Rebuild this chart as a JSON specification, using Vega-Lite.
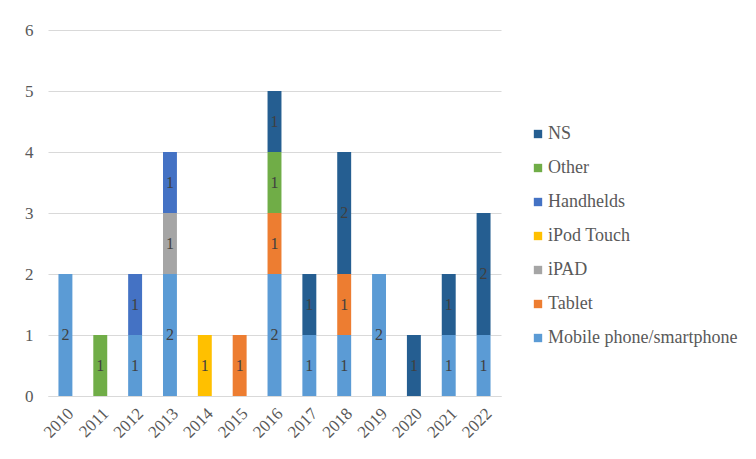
{
  "$schema": "https://vega.github.io/schema/vega-lite/v6.json",
  "autosize": {"type": "none"},
  "width": 453,
  "height": 366,
  "padding": {"left": 48, "top": 30, "right": 255, "bottom": 63},
  "background": "white",
  "config": {
    "font": "Liberation Serif",
    "view": {"stroke": null},
    "axis": {"labelFont": "Liberation Serif", "labelColor": "#595959", "labelFontSize": 17},
    "legend": {"labelFont": "Liberation Serif", "labelColor": "#595959", "labelFontSize": 18, "labelLimit": 400}
  },
  "data": {
    "values": [
      {"year": "2010", "device": "Mobile phone/smartphone", "k": 1, "n": 2},
      {"year": "2011", "device": "Other", "k": 6, "n": 1},
      {"year": "2012", "device": "Mobile phone/smartphone", "k": 1, "n": 1},
      {"year": "2012", "device": "Handhelds", "k": 5, "n": 1},
      {"year": "2013", "device": "Mobile phone/smartphone", "k": 1, "n": 2},
      {"year": "2013", "device": "iPAD", "k": 3, "n": 1},
      {"year": "2013", "device": "Handhelds", "k": 5, "n": 1},
      {"year": "2014", "device": "iPod Touch", "k": 4, "n": 1},
      {"year": "2015", "device": "Tablet", "k": 2, "n": 1},
      {"year": "2016", "device": "Mobile phone/smartphone", "k": 1, "n": 2},
      {"year": "2016", "device": "Tablet", "k": 2, "n": 1},
      {"year": "2016", "device": "Other", "k": 6, "n": 1},
      {"year": "2016", "device": "NS", "k": 7, "n": 1},
      {"year": "2017", "device": "Mobile phone/smartphone", "k": 1, "n": 1},
      {"year": "2017", "device": "NS", "k": 7, "n": 1},
      {"year": "2018", "device": "Mobile phone/smartphone", "k": 1, "n": 1},
      {"year": "2018", "device": "Tablet", "k": 2, "n": 1},
      {"year": "2018", "device": "NS", "k": 7, "n": 2},
      {"year": "2019", "device": "Mobile phone/smartphone", "k": 1, "n": 2},
      {"year": "2020", "device": "NS", "k": 7, "n": 1},
      {"year": "2021", "device": "Mobile phone/smartphone", "k": 1, "n": 1},
      {"year": "2021", "device": "NS", "k": 7, "n": 1},
      {"year": "2022", "device": "Mobile phone/smartphone", "k": 1, "n": 1},
      {"year": "2022", "device": "NS", "k": 7, "n": 2}
    ]
  },
  "transform": [
    {"stack": "n", "groupby": ["year"], "sort": [{"field": "k", "order": "ascending"}], "as": ["y0", "y1"]},
    {"calculate": "(datum.y0 + datum.y1) / 2", "as": "ymid"}
  ],
  "encoding": {
    "x": {
      "field": "year", "type": "ordinal", "title": null,
      "scale": {"paddingInner": 0.6, "paddingOuter": 0.3},
      "axis": {"labelAngle": -45, "ticks": false, "domain": true, "domainColor": "#D9D9D9", "labelPadding": 9}
    }
  },
  "layer": [
    {
      "mark": {"type": "bar"},
      "encoding": {
        "y": {
          "field": "y0", "type": "quantitative", "title": null,
          "scale": {"domain": [0, 6]},
          "axis": {"tickCount": 6, "ticks": false, "domain": false, "gridColor": "#D9D9D9", "labelPadding": 15}
        },
        "y2": {"field": "y1"},
        "color": {
          "field": "device", "type": "nominal", "title": null,
          "scale": {
            "domain": ["NS", "Other", "Handhelds", "iPod Touch", "iPAD", "Tablet", "Mobile phone/smartphone"],
            "range": ["#255E91", "#70AD47", "#4472C4", "#FFC000", "#A5A5A5", "#ED7D31", "#5B9BD5"]
          },
          "legend": {
            "orient": "none", "legendX": 481, "legendY": 95,
            "symbolType": "square", "symbolSize": 70, "symbolStrokeWidth": 0,
            "rowPadding": 16, "labelOffset": 1
          }
        }
      }
    },
    {
      "mark": {"type": "text", "font": "Liberation Serif", "fontSize": 16, "color": "#404040", "baseline": "middle"},
      "encoding": {
        "y": {"field": "ymid", "type": "quantitative"},
        "text": {"field": "n", "type": "quantitative"}
      }
    }
  ]
}
